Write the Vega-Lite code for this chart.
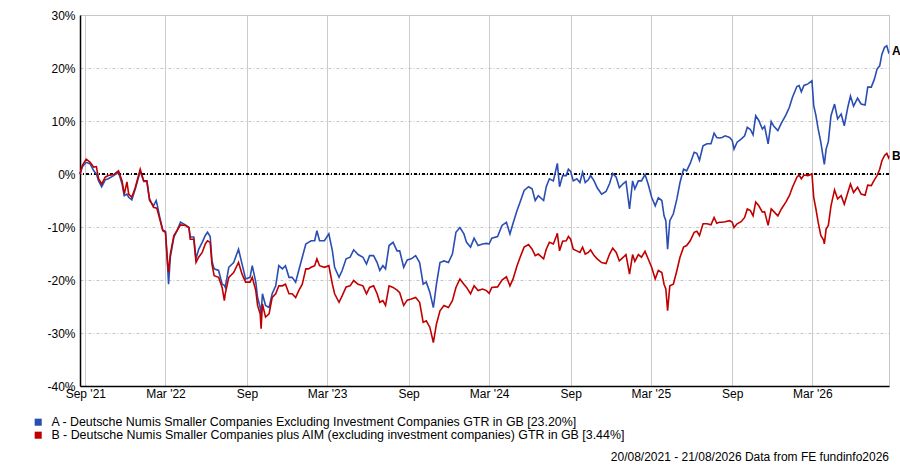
{
  "$schema": "https://vega.github.io/schema/vega-lite/v6.json",
  "width": 809,
  "height": 371,
  "autosize": "none",
  "padding": {"left": 80, "top": 15, "right": 11, "bottom": 81},
  "background": "white",
  "config": {
    "font": "Liberation Sans",
    "view": {"stroke": "#c8c8c8", "strokeWidth": 1},
    "axis": {"labelFont": "Liberation Sans", "labelFontSize": 12, "labelColor": "#000000", "ticks": false, "domainColor": "#000000", "domainWidth": 1.5}
  },
  "title": {
    "text": "20/08/2021 - 21/08/2026 Data from FE fundinfo2026",
    "orient": "bottom",
    "anchor": "end",
    "frame": "group",
    "offset": 10,
    "fontSize": 12,
    "fontWeight": "normal",
    "font": "Liberation Sans",
    "color": "#000000"
  },
  "datasets": {
    "perf": [
      {"d": "2021-08-20", "A": 0, "B": 0},
      {"d": "2021-08-25", "A": 1.3, "B": 1.6},
      {"d": "2021-09-03", "A": 2.2, "B": 2.8},
      {"d": "2021-09-12", "A": 1.9, "B": 2.2},
      {"d": "2021-09-20", "A": 0.6, "B": 1.3},
      {"d": "2021-09-26", "A": 0.0, "B": 1.4},
      {"d": "2021-10-01", "A": -1.3, "B": -0.9},
      {"d": "2021-10-08", "A": -2.4, "B": -1.9},
      {"d": "2021-10-16", "A": -1.1, "B": -0.6},
      {"d": "2021-10-23", "A": -0.9, "B": -0.3},
      {"d": "2021-11-04", "A": -0.3, "B": -0.1},
      {"d": "2021-11-15", "A": 0.3, "B": 0.6},
      {"d": "2021-11-23", "A": -1.9, "B": -1.3},
      {"d": "2021-11-28", "A": -4.1, "B": -3.8},
      {"d": "2021-12-04", "A": -3.8, "B": -1.5},
      {"d": "2021-12-08", "A": -4.4, "B": -3.8},
      {"d": "2021-12-15", "A": -4.9, "B": -4.4},
      {"d": "2021-12-23", "A": -2.8, "B": -2.5},
      {"d": "2022-01-03", "A": 0.5, "B": 0.9},
      {"d": "2022-01-11", "A": -1.4, "B": -1.3},
      {"d": "2022-01-18", "A": -1.4, "B": -1.3},
      {"d": "2022-01-24", "A": -5.0, "B": -4.7},
      {"d": "2022-02-02", "A": -6.0, "B": -6.3},
      {"d": "2022-02-08", "A": -5.0, "B": -6.4},
      {"d": "2022-02-10", "A": -5.7, "B": -6.6},
      {"d": "2022-02-17", "A": -8.5, "B": -8.8},
      {"d": "2022-02-23", "A": -10.6, "B": -10.7},
      {"d": "2022-03-01", "A": -10.8, "B": -11.0},
      {"d": "2022-03-06", "A": -17.6, "B": -17.0},
      {"d": "2022-03-08", "A": -20.8, "B": -18.5},
      {"d": "2022-03-12", "A": -15.7, "B": -15.1},
      {"d": "2022-03-20", "A": -11.9, "B": -11.6},
      {"d": "2022-03-27", "A": -10.7, "B": -10.7},
      {"d": "2022-04-04", "A": -9.1, "B": -9.6},
      {"d": "2022-04-15", "A": -9.6, "B": -9.7},
      {"d": "2022-04-23", "A": -10.1, "B": -10.1},
      {"d": "2022-04-26", "A": -11.9, "B": -12.3},
      {"d": "2022-05-04", "A": -11.9, "B": -12.3},
      {"d": "2022-05-09", "A": -16.0, "B": -16.7},
      {"d": "2022-05-15", "A": -14.2, "B": -15.7},
      {"d": "2022-05-23", "A": -12.9, "B": -14.8},
      {"d": "2022-05-30", "A": -11.6, "B": -13.2},
      {"d": "2022-06-04", "A": -11.0, "B": -12.6},
      {"d": "2022-06-10", "A": -11.8, "B": -12.9},
      {"d": "2022-06-14", "A": -16.4, "B": -17.0},
      {"d": "2022-06-19", "A": -17.9, "B": -19.2},
      {"d": "2022-06-29", "A": -18.2, "B": -19.5},
      {"d": "2022-07-07", "A": -20.8, "B": -21.4},
      {"d": "2022-07-12", "A": -21.0, "B": -23.9},
      {"d": "2022-07-14", "A": -21.4, "B": -22.6},
      {"d": "2022-07-22", "A": -17.6, "B": -19.5},
      {"d": "2022-08-02", "A": -16.7, "B": -18.6},
      {"d": "2022-08-13", "A": -14.2, "B": -16.7},
      {"d": "2022-08-21", "A": -17.0, "B": -18.9},
      {"d": "2022-08-29", "A": -19.8, "B": -20.4},
      {"d": "2022-09-08", "A": -19.5, "B": -20.4},
      {"d": "2022-09-13", "A": -17.3, "B": -19.5},
      {"d": "2022-09-21", "A": -20.4, "B": -22.0},
      {"d": "2022-09-25", "A": -23.3, "B": -24.8},
      {"d": "2022-10-01", "A": -25.2, "B": -26.4},
      {"d": "2022-10-03", "A": -26.5, "B": -29.2},
      {"d": "2022-10-06", "A": -22.6, "B": -24.5},
      {"d": "2022-10-13", "A": -24.8, "B": -27.0},
      {"d": "2022-10-21", "A": -25.2, "B": -26.4},
      {"d": "2022-10-28", "A": -22.6, "B": -23.3},
      {"d": "2022-11-05", "A": -21.1, "B": -22.6},
      {"d": "2022-11-12", "A": -17.3, "B": -21.1},
      {"d": "2022-11-20", "A": -17.9, "B": -21.1},
      {"d": "2022-11-27", "A": -17.3, "B": -20.8},
      {"d": "2022-12-05", "A": -19.5, "B": -22.6},
      {"d": "2022-12-12", "A": -19.5, "B": -22.6},
      {"d": "2022-12-20", "A": -20.4, "B": -23.3},
      {"d": "2022-12-27", "A": -18.2, "B": -22.0},
      {"d": "2023-01-04", "A": -15.7, "B": -20.8},
      {"d": "2023-01-12", "A": -13.2, "B": -17.9},
      {"d": "2023-01-18", "A": -12.9, "B": -17.9},
      {"d": "2023-01-24", "A": -12.6, "B": -17.6},
      {"d": "2023-02-01", "A": -12.6, "B": -17.3},
      {"d": "2023-02-06", "A": -10.7, "B": -16.0},
      {"d": "2023-02-12", "A": -12.6, "B": -17.3},
      {"d": "2023-02-23", "A": -12.6, "B": -17.6},
      {"d": "2023-03-05", "A": -11.3, "B": -17.3},
      {"d": "2023-03-13", "A": -14.5, "B": -20.8},
      {"d": "2023-03-18", "A": -17.6, "B": -22.6},
      {"d": "2023-03-28", "A": -19.5, "B": -24.2},
      {"d": "2023-04-04", "A": -18.2, "B": -23.0},
      {"d": "2023-04-13", "A": -16.0, "B": -21.3},
      {"d": "2023-04-22", "A": -15.7, "B": -21.1},
      {"d": "2023-04-30", "A": -14.3, "B": -20.1},
      {"d": "2023-05-10", "A": -15.2, "B": -20.8},
      {"d": "2023-05-21", "A": -15.7, "B": -21.1},
      {"d": "2023-05-29", "A": -17.0, "B": -22.6},
      {"d": "2023-06-05", "A": -15.4, "B": -21.4},
      {"d": "2023-06-14", "A": -15.4, "B": -21.1},
      {"d": "2023-06-22", "A": -16.7, "B": -22.6},
      {"d": "2023-06-28", "A": -18.2, "B": -24.2},
      {"d": "2023-07-05", "A": -17.3, "B": -23.9},
      {"d": "2023-07-11", "A": -17.9, "B": -24.8},
      {"d": "2023-07-19", "A": -13.5, "B": -21.1},
      {"d": "2023-07-28", "A": -12.9, "B": -21.4},
      {"d": "2023-08-06", "A": -14.5, "B": -21.9},
      {"d": "2023-08-12", "A": -14.5, "B": -22.4},
      {"d": "2023-08-21", "A": -17.6, "B": -24.8},
      {"d": "2023-08-29", "A": -16.2, "B": -23.8},
      {"d": "2023-09-07", "A": -16.0, "B": -23.6},
      {"d": "2023-09-17", "A": -15.4, "B": -23.3},
      {"d": "2023-09-26", "A": -16.7, "B": -24.2},
      {"d": "2023-10-04", "A": -20.8, "B": -28.0},
      {"d": "2023-10-11", "A": -20.4, "B": -27.7},
      {"d": "2023-10-19", "A": -22.3, "B": -28.9},
      {"d": "2023-10-27", "A": -25.2, "B": -31.8},
      {"d": "2023-11-03", "A": -20.8, "B": -28.3},
      {"d": "2023-11-11", "A": -16.7, "B": -25.8},
      {"d": "2023-11-20", "A": -16.4, "B": -24.8},
      {"d": "2023-11-30", "A": -16.7, "B": -25.2},
      {"d": "2023-12-09", "A": -15.1, "B": -23.9},
      {"d": "2023-12-17", "A": -11.0, "B": -21.4},
      {"d": "2023-12-26", "A": -10.1, "B": -19.8},
      {"d": "2024-01-04", "A": -11.3, "B": -20.8},
      {"d": "2024-01-10", "A": -12.9, "B": -21.4},
      {"d": "2024-01-19", "A": -13.8, "B": -22.6},
      {"d": "2024-01-27", "A": -12.1, "B": -21.1},
      {"d": "2024-02-05", "A": -13.5, "B": -22.0},
      {"d": "2024-02-15", "A": -13.2, "B": -21.7},
      {"d": "2024-02-24", "A": -13.1, "B": -22.0},
      {"d": "2024-03-01", "A": -13.2, "B": -22.5},
      {"d": "2024-03-07", "A": -12.1, "B": -21.4},
      {"d": "2024-03-20", "A": -11.8, "B": -21.3},
      {"d": "2024-03-30", "A": -9.7, "B": -20.0},
      {"d": "2024-04-09", "A": -9.1, "B": -19.4},
      {"d": "2024-04-17", "A": -11.3, "B": -21.1},
      {"d": "2024-04-24", "A": -9.3, "B": -19.8},
      {"d": "2024-05-03", "A": -6.9, "B": -17.3},
      {"d": "2024-05-10", "A": -5.3, "B": -15.7},
      {"d": "2024-05-19", "A": -3.1, "B": -13.8},
      {"d": "2024-05-29", "A": -2.4, "B": -13.3},
      {"d": "2024-06-06", "A": -2.8, "B": -14.2},
      {"d": "2024-06-13", "A": -5.0, "B": -15.4},
      {"d": "2024-06-20", "A": -4.1, "B": -15.1},
      {"d": "2024-07-02", "A": -5.0, "B": -16.0},
      {"d": "2024-07-08", "A": -2.4, "B": -14.2},
      {"d": "2024-07-15", "A": -0.9, "B": -12.9},
      {"d": "2024-07-24", "A": -1.3, "B": -13.2},
      {"d": "2024-07-30", "A": 0.9, "B": -11.9},
      {"d": "2024-08-02", "A": 2.0, "B": -11.2},
      {"d": "2024-08-07", "A": -2.4, "B": -14.5},
      {"d": "2024-08-14", "A": -0.3, "B": -12.7},
      {"d": "2024-08-22", "A": -0.3, "B": -12.6},
      {"d": "2024-08-27", "A": 0.9, "B": -11.8},
      {"d": "2024-09-01", "A": 0.5, "B": -12.3},
      {"d": "2024-09-07", "A": -1.3, "B": -14.2},
      {"d": "2024-09-15", "A": -0.9, "B": -14.5},
      {"d": "2024-09-22", "A": -1.6, "B": -14.8},
      {"d": "2024-09-28", "A": 0.3, "B": -13.8},
      {"d": "2024-10-04", "A": -1.6, "B": -15.1},
      {"d": "2024-10-11", "A": -1.1, "B": -14.8},
      {"d": "2024-10-16", "A": -0.3, "B": -14.3},
      {"d": "2024-10-24", "A": -1.3, "B": -15.4},
      {"d": "2024-10-31", "A": -2.6, "B": -16.0},
      {"d": "2024-11-10", "A": -3.8, "B": -16.7},
      {"d": "2024-11-20", "A": -3.3, "B": -16.9},
      {"d": "2024-11-28", "A": -1.8, "B": -15.1},
      {"d": "2024-12-05", "A": 0.1, "B": -14.0},
      {"d": "2024-12-13", "A": -0.6, "B": -14.8},
      {"d": "2024-12-20", "A": -2.6, "B": -16.4},
      {"d": "2024-12-29", "A": -1.8, "B": -15.7},
      {"d": "2025-01-04", "A": -1.4, "B": -15.2},
      {"d": "2025-01-12", "A": -6.6, "B": -18.9},
      {"d": "2025-01-19", "A": -1.3, "B": -15.2},
      {"d": "2025-01-24", "A": -2.8, "B": -16.5},
      {"d": "2025-02-01", "A": -1.3, "B": -15.2},
      {"d": "2025-02-08", "A": -1.3, "B": -15.7},
      {"d": "2025-02-16", "A": -0.1, "B": -14.6},
      {"d": "2025-02-23", "A": -1.9, "B": -16.0},
      {"d": "2025-03-03", "A": -4.4, "B": -17.6},
      {"d": "2025-03-11", "A": -6.0, "B": -19.8},
      {"d": "2025-03-18", "A": -4.5, "B": -18.2},
      {"d": "2025-03-26", "A": -5.0, "B": -18.6},
      {"d": "2025-03-31", "A": -7.9, "B": -20.8},
      {"d": "2025-04-04", "A": -8.8, "B": -21.7},
      {"d": "2025-04-08", "A": -14.2, "B": -25.8},
      {"d": "2025-04-13", "A": -8.8, "B": -21.1},
      {"d": "2025-04-21", "A": -7.5, "B": -20.8},
      {"d": "2025-04-29", "A": -4.7, "B": -18.2},
      {"d": "2025-05-06", "A": -1.6, "B": -15.7},
      {"d": "2025-05-14", "A": 0.9, "B": -13.8},
      {"d": "2025-05-21", "A": 0.6, "B": -13.5},
      {"d": "2025-05-29", "A": 2.0, "B": -12.6},
      {"d": "2025-06-07", "A": 4.1, "B": -11.0},
      {"d": "2025-06-13", "A": 3.9, "B": -10.8},
      {"d": "2025-06-19", "A": 2.6, "B": -11.6},
      {"d": "2025-06-27", "A": 5.3, "B": -9.4},
      {"d": "2025-07-06", "A": 5.7, "B": -9.4},
      {"d": "2025-07-15", "A": 5.7, "B": -9.6},
      {"d": "2025-07-22", "A": 7.7, "B": -8.2},
      {"d": "2025-07-28", "A": 6.9, "B": -9.3},
      {"d": "2025-08-03", "A": 6.8, "B": -9.1},
      {"d": "2025-08-09", "A": 6.9, "B": -9.1},
      {"d": "2025-08-16", "A": 7.2, "B": -9.0},
      {"d": "2025-08-26", "A": 6.9, "B": -8.8},
      {"d": "2025-09-01", "A": 6.3, "B": -9.1},
      {"d": "2025-09-05", "A": 4.7, "B": -10.1},
      {"d": "2025-09-12", "A": 6.0, "B": -9.4},
      {"d": "2025-09-21", "A": 6.6, "B": -9.0},
      {"d": "2025-09-29", "A": 7.2, "B": -8.2},
      {"d": "2025-10-05", "A": 8.8, "B": -6.6},
      {"d": "2025-10-12", "A": 8.4, "B": -6.9},
      {"d": "2025-10-18", "A": 7.4, "B": -7.9},
      {"d": "2025-10-24", "A": 11.0, "B": -5.3},
      {"d": "2025-10-31", "A": 10.1, "B": -6.0},
      {"d": "2025-11-08", "A": 8.5, "B": -7.2},
      {"d": "2025-11-13", "A": 9.0, "B": -7.1},
      {"d": "2025-11-21", "A": 5.7, "B": -9.7},
      {"d": "2025-11-28", "A": 9.9, "B": -6.6},
      {"d": "2025-12-04", "A": 9.0, "B": -7.1},
      {"d": "2025-12-13", "A": 8.2, "B": -7.9},
      {"d": "2025-12-21", "A": 9.6, "B": -6.6},
      {"d": "2025-12-31", "A": 11.1, "B": -5.3},
      {"d": "2026-01-08", "A": 12.6, "B": -4.1},
      {"d": "2026-01-15", "A": 14.5, "B": -2.5},
      {"d": "2026-01-25", "A": 16.5, "B": -0.6},
      {"d": "2026-01-30", "A": 16.7, "B": -0.2},
      {"d": "2026-02-04", "A": 15.5, "B": -0.9},
      {"d": "2026-02-10", "A": 16.7, "B": -0.2},
      {"d": "2026-02-19", "A": 17.0, "B": -0.3},
      {"d": "2026-02-28", "A": 17.6, "B": 0.0},
      {"d": "2026-03-04", "A": 12.9, "B": -4.4},
      {"d": "2026-03-09", "A": 11.0, "B": -6.6},
      {"d": "2026-03-14", "A": 8.5, "B": -9.1},
      {"d": "2026-03-20", "A": 6.0, "B": -11.6},
      {"d": "2026-03-26", "A": 2.8, "B": -12.4},
      {"d": "2026-03-28", "A": 1.8, "B": -13.2},
      {"d": "2026-04-01", "A": 4.7, "B": -10.4},
      {"d": "2026-04-06", "A": 6.1, "B": -9.7},
      {"d": "2026-04-12", "A": 11.0, "B": -6.0},
      {"d": "2026-04-20", "A": 13.2, "B": -3.0},
      {"d": "2026-04-27", "A": 10.4, "B": -4.7},
      {"d": "2026-05-05", "A": 11.3, "B": -4.1},
      {"d": "2026-05-12", "A": 9.1, "B": -5.7},
      {"d": "2026-05-20", "A": 12.6, "B": -3.5},
      {"d": "2026-05-26", "A": 14.7, "B": -1.9},
      {"d": "2026-06-02", "A": 12.8, "B": -3.5},
      {"d": "2026-06-11", "A": 14.3, "B": -2.5},
      {"d": "2026-06-19", "A": 13.2, "B": -3.8},
      {"d": "2026-06-28", "A": 13.0, "B": -4.0},
      {"d": "2026-07-04", "A": 16.4, "B": -2.1},
      {"d": "2026-07-12", "A": 16.4, "B": -2.2},
      {"d": "2026-07-19", "A": 17.9, "B": -1.1},
      {"d": "2026-07-25", "A": 19.8, "B": -0.3},
      {"d": "2026-07-31", "A": 20.4, "B": 0.9},
      {"d": "2026-08-05", "A": 22.6, "B": 2.5},
      {"d": "2026-08-11", "A": 23.9, "B": 3.5},
      {"d": "2026-08-16", "A": 24.2, "B": 3.9},
      {"d": "2026-08-20", "A": 23.0, "B": 3.1},
      {"d": "2026-08-21", "A": 23.2, "B": 3.44}
    ]
  },
  "data": {"name": "perf"},
  "transform": [
    {"fold": ["A", "B"], "as": ["series", "value"]}
  ],
  "layer": [
    {
      "mark": {"type": "rule", "color": "#000000", "strokeWidth": 1, "strokeDash": [3, 2, 1, 2]},
      "encoding": {
        "y": {"datum": 0, "type": "quantitative"}
      }
    },
    {
      "mark": {"type": "line", "strokeWidth": 1.6, "interpolate": "linear"},
      "encoding": {
        "x": {
          "field": "d",
          "type": "temporal",
          "title": null,
          "scale": {"domain": [{"year": 2021, "month": 8, "date": 20}, {"year": 2026, "month": 8, "date": 21}]},
          "axis": {
            "values": [
              {"year": 2021, "month": 9, "date": 1},
              {"year": 2022, "month": 3, "date": 1},
              {"year": 2022, "month": 9, "date": 1},
              {"year": 2023, "month": 3, "date": 1},
              {"year": 2023, "month": 9, "date": 1},
              {"year": 2024, "month": 3, "date": 1},
              {"year": 2024, "month": 9, "date": 1},
              {"year": 2025, "month": 3, "date": 1},
              {"year": 2025, "month": 9, "date": 1},
              {"year": 2026, "month": 3, "date": 1}
            ],
            "labelExpr": "month(datum.value) == 2 ? \"Mar '\" + timeFormat(datum.value, '%y') : (year(datum.value) == 2021 ? \"Sep '21\" : 'Sep')",
            "grid": true,
            "gridColor": "#cccccc",
            "gridWidth": 1,
            "labelPadding": 2,
            "labelFlush": false,
            "labelOverlap": false
          }
        },
        "y": {
          "field": "value",
          "type": "quantitative",
          "title": null,
          "scale": {"domain": [-40, 30], "nice": false},
          "axis": {
            "values": [-40, -30, -20, -10, 0, 10, 20, 30],
            "labelExpr": "datum.value + '%'",
            "grid": true,
            "gridColor": "#c4c4c4",
            "gridDash": [3, 2, 1, 2],
            "labelPadding": 5,
            "labelFlush": false,
            "labelOverlap": false
          }
        },
        "color": {
          "field": "series",
          "type": "nominal",
          "scale": {"domain": ["A", "B"], "range": ["#2a4db3", "#c00000"]},
          "legend": {
            "orient": "none",
            "legendX": -48,
            "legendY": 401,
            "title": null,
            "direction": "vertical",
            "symbolType": "square",
            "symbolSize": 50,
            "symbolStrokeWidth": 0,
            "rowPadding": 0,
            "labelFontSize": 12.4,
            "labelFont": "Liberation Sans",
            "labelColor": "#000000",
            "labelLimit": 0,
            "labelOffset": 7,
            "labelExpr": "datum.label == 'A' ? 'A - Deutsche Numis Smaller Companies Excluding Investment Companies GTR in GB [23.20%]' : 'B - Deutsche Numis Smaller Companies plus AIM (excluding investment companies) GTR in GB [3.44%]'",
            "encode": {
              "symbols": {"update": {"fill": {"scale": "color", "field": "value"}, "stroke": {"value": "transparent"}}}
            }
          }
        }
      }
    },
    {
      "transform": [
        {"joinaggregate": [{"op": "max", "field": "d", "as": "maxd"}]},
        {"filter": "time(datum.d) == time(datum.maxd)"}
      ],
      "mark": {"type": "text", "align": "left", "dx": 3, "fontWeight": "bold", "fontSize": 12, "font": "Liberation Sans", "color": "#000000"},
      "encoding": {
        "x": {"field": "d", "type": "temporal"},
        "y": {"field": "value", "type": "quantitative"},
        "text": {"field": "series"}
      }
    }
  ]
}
